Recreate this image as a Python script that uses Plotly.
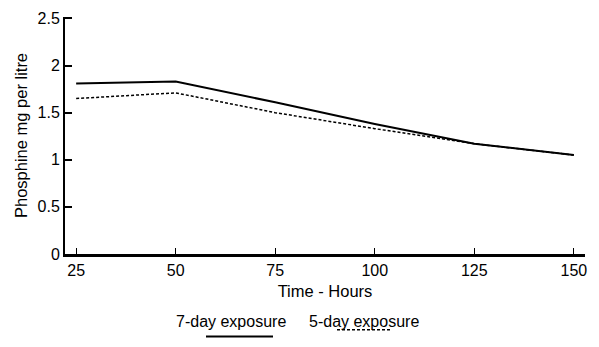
import plotly.graph_objects as go

hours = [25, 50, 75, 100, 125, 150]
seven_day = [1.81, 1.83, 1.61, 1.38, 1.17, 1.05]
five_day = [1.65, 1.71, 1.50, 1.33, 1.17, 1.05]
x_ticks = [25, 50, 75, 100, 125, 150]
y_ticks = [0, 0.5, 1, 1.5, 2, 2.5]
y_tick_text = ["0", "0.5", "1", "1.5", "2", "2.5"]

FONT = "Liberation Sans, Arial, sans-serif"
W, H = 599, 347
ML, MR, MT, MB = 65, 14, 10, 93


def pxx(p):
    return (p - ML) / (W - ML - MR)


def pxy(p):
    return (H - MB - p) / (H - MT - MB)


fig = go.Figure()
fig.add_trace(go.Scatter(x=hours, y=seven_day, mode="lines", name="7-day exposure",
                         line=dict(color="black", width=2), showlegend=False))
fig.add_trace(go.Scatter(x=hours, y=five_day, mode="lines", name="5-day exposure",
                         line=dict(color="black", width=1.5, dash="3px,2px"), showlegend=False))

fig.update_layout(
    width=W, height=H,
    margin=dict(l=ML, r=MR, t=MT, b=MB),
    paper_bgcolor="white", plot_bgcolor="white",
    font=dict(family=FONT, size=16, color="black"),
    xaxis=dict(range=[22.2, 152.8], tickvals=x_ticks, ticks="inside", ticklen=6,
               tickwidth=1, tickcolor="black", showline=True, linecolor="black",
               linewidth=3, showgrid=False, zeroline=False,
               tickfont=dict(size=16),
               title=dict(text="Time - Hours", font=dict(size=16.5), standoff=8)),
    yaxis=dict(range=[0, 2.515], tickvals=y_ticks, ticktext=y_tick_text, ticks="inside",
               ticklen=7, tickwidth=1.5, tickcolor="black", showline=True,
               linecolor="black", linewidth=2, showgrid=False, zeroline=False,
               tickfont=dict(size=16),
               title=dict(text="Phosphine mg per litre", font=dict(size=16.5), standoff=6)),
)

# Legend drawn below the chart: text with line samples beneath
fig.add_annotation(x=pxx(231), y=pxy(323), xref="paper", yref="paper",
                   text="7-day exposure", showarrow=False, font=dict(size=16),
                   xanchor="center", yanchor="middle")
fig.add_annotation(x=pxx(364), y=pxy(323), xref="paper", yref="paper",
                   text="5-day exposure", showarrow=False, font=dict(size=16),
                   xanchor="center", yanchor="middle")

fig.add_shape(type="line", xref="paper", yref="paper", x0=pxx(206), x1=pxx(273),
              y0=pxy(339), y1=pxy(339), line=dict(color="black", width=2))
fig.add_shape(type="line", xref="paper", yref="paper", x0=pxx(337), x1=pxx(390),
              y0=pxy(332), y1=pxy(332), line=dict(color="black", width=1.5, dash="3px,2px"))

fig.write_html("out.html")
